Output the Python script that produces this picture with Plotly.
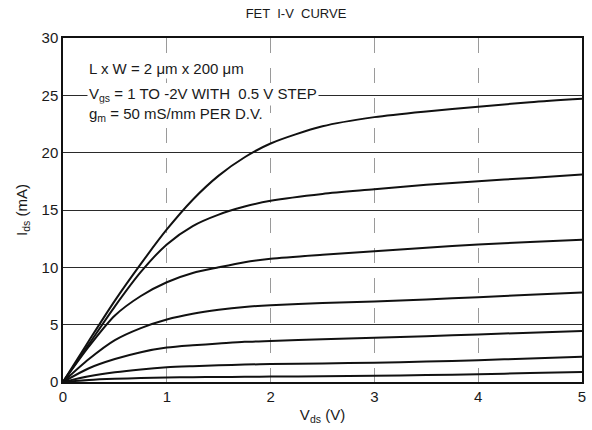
import plotly.graph_objects as go

vds = [0, 0.25, 0.5, 0.75, 1.0, 1.25, 1.5, 1.75, 2.0, 2.5, 3.0, 3.5, 4.0, 4.5, 5.0]

ids_vgs_p1_0 = [0, 3.6, 7.1, 10.3, 13.3, 15.9, 18.0, 19.6, 20.8, 22.3, 23.1, 23.6, 24.0, 24.4, 24.7]
ids_vgs_p0_5 = [0, 3.3, 6.6, 9.6, 12.0, 13.6, 14.6, 15.3, 15.8, 16.4, 16.8, 17.2, 17.5, 17.8, 18.1]
ids_vgs_0_0 = [0, 3.1, 5.8, 7.5, 8.7, 9.5, 10.0, 10.45, 10.75, 11.1, 11.4, 11.7, 12.0, 12.2, 12.4]
ids_vgs_m0_5 = [0, 2.0, 3.65, 4.7, 5.45, 5.95, 6.3, 6.55, 6.7, 6.88, 7.02, 7.2, 7.4, 7.6, 7.8]
ids_vgs_m1_0 = [0, 1.2, 2.0, 2.6, 3.0, 3.2, 3.35, 3.5, 3.58, 3.72, 3.85, 4.0, 4.15, 4.3, 4.45]
ids_vgs_m1_5 = [0, 0.5, 0.85, 1.1, 1.28, 1.38, 1.46, 1.52, 1.56, 1.62, 1.68, 1.78, 1.9, 2.05, 2.2]
ids_vgs_m2_0 = [0, 0.18, 0.28, 0.34, 0.4, 0.42, 0.44, 0.45, 0.47, 0.5, 0.54, 0.6, 0.68, 0.78, 0.88]

series = [
    ("Vgs = 1 V", ids_vgs_p1_0),
    ("Vgs = 0.5 V", ids_vgs_p0_5),
    ("Vgs = 0 V", ids_vgs_0_0),
    ("Vgs = -0.5 V", ids_vgs_m0_5),
    ("Vgs = -1 V", ids_vgs_m1_0),
    ("Vgs = -1.5 V", ids_vgs_m1_5),
    ("Vgs = -2 V", ids_vgs_m2_0),
]

x_ticks = [0, 1, 2, 3, 4, 5]
y_ticks = [0, 5, 10, 15, 20, 25, 30]

font_family = "Liberation Sans, DejaVu Sans, sans-serif"
ink = "#1a1a1a"

fig = go.Figure()
for name, vals in series:
    fig.add_trace(go.Scatter(
        x=vds, y=vals, mode="lines", name=name,
        line=dict(color="#111111", width=2, shape="spline", smoothing=0.8),
        showlegend=False,
    ))

fig.update_layout(
    width=592, height=430,
    margin=dict(l=63, r=6, t=38, b=48),
    paper_bgcolor="white", plot_bgcolor="white",
    font=dict(family=font_family, size=14, color=ink),
    title=dict(text="FET  I-V  CURVE", x=0.5, xref="container", xanchor="center",
               y=0.968, yref="container", yanchor="middle",
               font=dict(size=13, color=ink)),
    xaxis=dict(range=[0, 5], tickvals=x_ticks, ticktext=[str(v) for v in x_ticks],
               showgrid=True, gridcolor="#9a9a9a", gridwidth=1, griddash="longdash",
               showline=True, linecolor="#111", linewidth=1.5, mirror=True,
               zeroline=False, ticks="", tickfont=dict(size=15, color=ink),
               title=dict(text="V<sub>ds</sub> (V)", font=dict(size=15, color=ink), standoff=6)),
    yaxis=dict(range=[0, 30], tickvals=y_ticks, ticktext=[str(v) for v in y_ticks],
               showgrid=True, gridcolor="#2a2a2a", gridwidth=1,
               showline=True, linecolor="#111", linewidth=1.5, mirror=True,
               zeroline=False, ticks="", tickfont=dict(size=15, color=ink),
               title=dict(text="I<sub>ds</sub> (mA)", font=dict(size=15, color=ink), standoff=10)),
)

notes = [
    ("L x W = 2 \u03bcm x 200 \u03bcm", 27.3),
    ("V<sub>gs</sub> = 1 TO -2V WITH  0.5 V STEP", 25.1),
    ("g<sub>m</sub> = 50 mS/mm PER D.V.", 23.3),
]
for txt, yv in notes:
    fig.add_annotation(x=0.23, y=yv, xref="x", yref="y", text=txt, showarrow=False,
                       xanchor="left", yanchor="middle", bgcolor="white",
                       font=dict(size=15, color=ink), borderpad=1)

fig.write_html("out.html")
